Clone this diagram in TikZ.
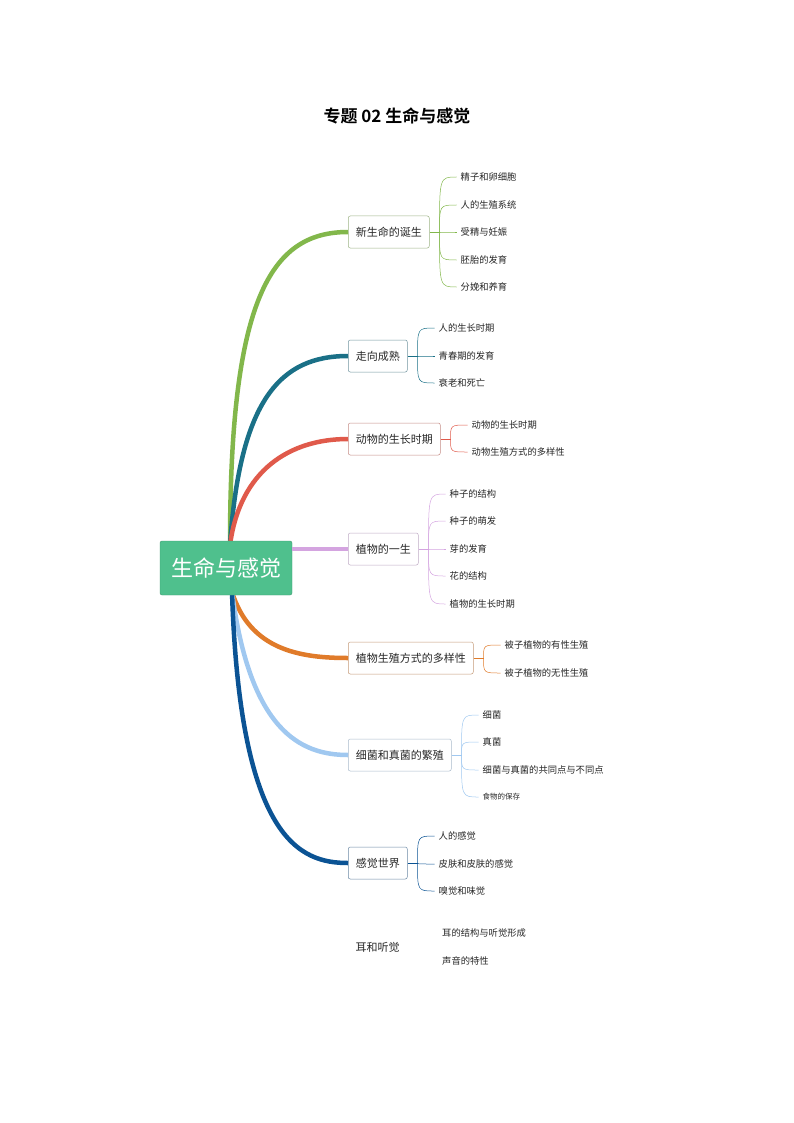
\documentclass[tikz,border=0pt]{standalone}
\usepackage{fontspec}
\usetikzlibrary{calc}
\setmainfont{Noto Sans CJK SC}
\newfontfamily\titlefont{Noto Sans CJK SC Bold}
\begin{document}
\begin{tikzpicture}[x=1pt,y=-1pt,
 br/.style={draw=#1!70!black!60,rounded corners=2pt,line width=0.5pt,font=\fontsize{11}{12}\selectfont,inner xsep=7.5pt,minimum height=32pt,anchor=west,text=black!85},
 lf/.style={anchor=west,font=\fontsize{9.3}{10}\selectfont,text=black!85,inner sep=1pt},
 main/.style={line width=4.5pt,#1},
 thin/.style={line width=0.5pt,#1}]
\useasboundingbox (0,0) rectangle (793,1123);
\definecolor{cg}{HTML}{82B74B}\definecolor{ct}{HTML}{1A7087}\definecolor{cr}{HTML}{E05A4B}
\definecolor{cp}{HTML}{D4A4E0}\definecolor{co}{HTML}{E07B2A}\definecolor{cl}{HTML}{A0C8F0}
\definecolor{cb}{HTML}{0B5394}\definecolor{root}{HTML}{4FC08D}
\node[font=\titlefont\fontsize{17}{19}\selectfont] (title) at (397,116) {专题 02 生命与感觉};
\coordinate (rt) at (230,545);\coordinate (rb) at (232,592);
\node[br=cg] (b1) at (348,232) {新生命的诞生};
\node[br=ct] (b2) at (348,356) {走向成熟};
\node[br=cr] (b3) at (348,439) {动物的生长时期};
\node[br=cp] (b4) at (348,549) {植物的一生};
\node[br=co] (b5) at (348,658) {植物生殖方式的多样性};
\node[br=cl] (b6) at (348,755) {细菌和真菌的繁殖};
\node[br=cb] (b7) at (348,863) {感觉世界};
\node[font=\fontsize{11}{12}\selectfont,anchor=west,inner xsep=7.5pt,text=black!85] (b8) at (348,947) {耳和听觉};
\draw[main=cg] (rt) .. controls (230,300) and (270,232) .. (b1.west);
\draw[main=ct] (rt) .. controls (240,400) and (280,356) .. (b2.west);
\draw[main=cr] (rt) .. controls (240,470) and (290,439) .. (b3.west);
\draw[main=co] (rb) .. controls (250,650) and (300,658) .. (b5.west);
\draw[main=cl] (rb) .. controls (250,730) and (300,755) .. (b6.west);
\draw[main=cb] (rb) .. controls (240,840) and (300,863) .. (b7.west);
\node[fill=root,draw=root!80!black,rounded corners=2pt,minimum width=132pt,minimum height=54pt,text=white,font=\fontsize{22}{24}\selectfont] (root) at (226,568) {生命与感觉};
\draw[main=cp] (root.east|-b4.west) -- (b4.west);
\foreach \b/\c/\list in {
 b1/cg/{177/精子和卵细胞,205/人的生殖系统,232/受精与妊娠,260/胚胎的发育,287/分娩和养育},
 b2/ct/{328/人的生长时期,356/青春期的发育,383/衰老和死亡},
 b3/cr/{425/动物的生长时期,452/动物生殖方式的多样性},
 b4/cp/{494/种子的结构,521/种子的萌发,549/芽的发育,576/花的结构,604/植物的生长时期},
 b5/co/{645/被子植物的有性生殖,673/被子植物的无性生殖},
 b6/cl/{715/细菌,742/真菌,770/细菌与真菌的共同点与不同点},
 b7/cb/{836/人的感觉,864/皮肤和皮肤的感觉,891/嗅觉和味觉}}{
 \coordinate (m) at ($(\b.east)+(10,0)$);
 \draw[thin=\c] (\b.east) -- (m);
 \foreach \y/\t in \list {
  \node[lf] (l\y) at ($(\b.east)+(30,0)$) {};
  \node[lf] (l\y) at (l\y.west|-0,\y) {\t};
  \draw[thin=\c] (m) .. controls (m|-l\y.west) .. ($(l\y.west)+(-3,0)$);
 }
}
\node[lf,font=\fontsize{7.5}{8}\selectfont] (l797) at (l770.west|-0,797) {食物的保存};
\draw[thin=cl] ($(b6.east)+(10,0)$) .. controls ($(b6.east)+(10,42)$) .. ($(l797.west)+(-3,0)$);
\node[lf] (e1) at (441,933) {耳的结构与听觉形成};
\node[lf] (e2) at (441,961) {声音的特性};
\end{tikzpicture}
\end{document}
